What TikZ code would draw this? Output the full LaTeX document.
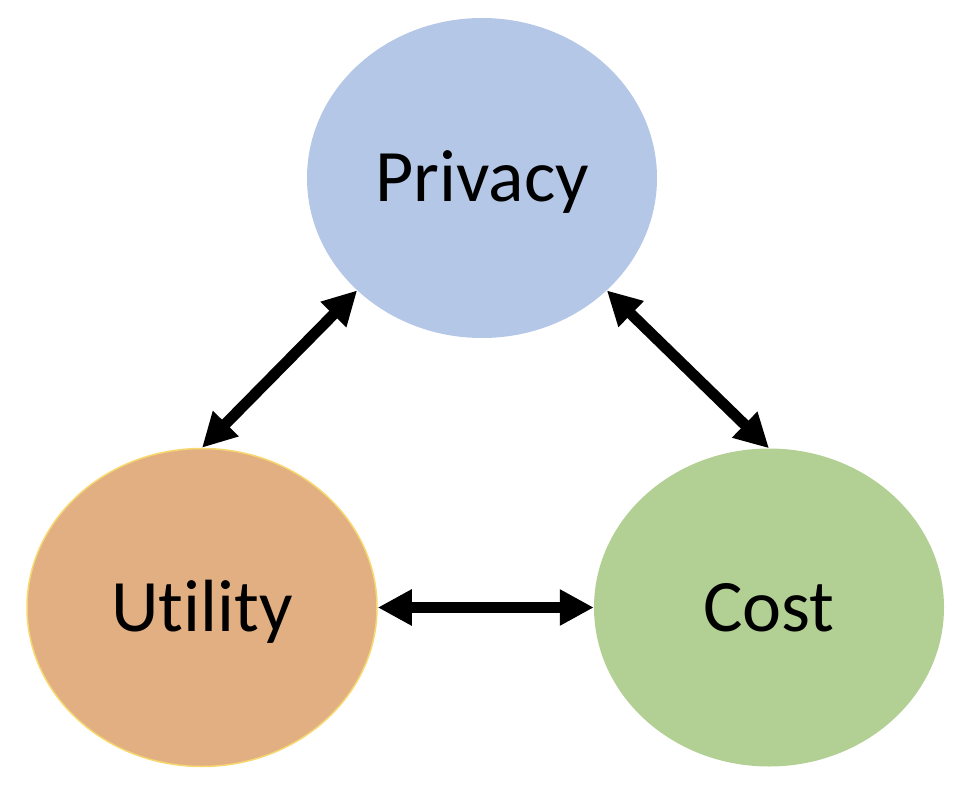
\documentclass[tikz,border=0pt]{standalone}
\usepackage{fontspec}
\setmainfont{Carlito}[Ligatures=NoCommon]
\usetikzlibrary{shapes.geometric,arrows.meta}
\definecolor{privfill}{HTML}{B4C7E7}
\definecolor{utilfill}{HTML}{E2AF83}
\definecolor{utilline}{HTML}{F7D870}
\definecolor{costfill}{HTML}{B3D094}
\tikzset{
  bubble/.style={ellipse, inner sep=0pt, minimum width=350pt, minimum height=318pt,
    font=\fontsize{74}{88}\selectfont, text height=47pt, text depth=0pt},
  link/.style={line width=11pt, {Triangle[length=34pt,width=34pt]}-{Triangle[length=34pt,width=34pt]}}
}
\begin{document}
\begin{tikzpicture}[x=1pt,y=-1pt]
\useasboundingbox (0,0) rectangle (955,791);
\node[bubble, fill=privfill, minimum height=320pt] (priv) at (482,178) {Privacy};
\node[bubble, fill=utilfill, draw=utilline, line width=1.5pt] (util) at (202,607.5) {Utility};
\node[bubble, fill=costfill] (cost) at (769,607.5) {Cost};
\draw[link] (priv.222) -- (util.north);
\draw[link] (priv.318) -- (cost.north);
\draw[link] (util.east) -- (cost.west);
\end{tikzpicture}
\end{document}
